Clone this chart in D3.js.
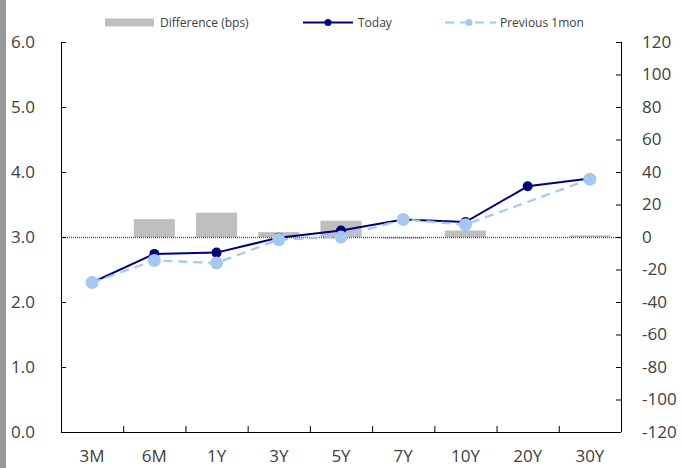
<!DOCTYPE html>
<html>
<head>
<meta charset="utf-8">
<script src="https://cdn.jsdelivr.net/npm/d3@7"></script>
<style>
  body { margin: 0; background: #fff; }
  text { font-family: "Open Sans", "Noto Sans", sans-serif; fill: #404040; }
</style>
</head>
<body>
<svg width="682" height="468"></svg>
<script>
// ---> Data
const categories = ["3M", "6M", "1Y", "3Y", "5Y", "7Y", "10Y", "20Y", "30Y"];
const today = [2.30, 2.74, 2.76, 2.99, 3.10, 3.27, 3.23, 3.78, 3.90];
const previous = [2.30, 2.64, 2.60, 2.96, 3.00, 3.27, 3.19, null, 3.89];
const diffBps = [0, 11, 15, 3, 10, -1, 4, null, 1];
const leftTicks = [0, 1, 2, 3, 4, 5, 6];
const rightTicks = [-120, -100, -80, -60, -40, -20, 0, 20, 40, 60, 80, 100, 120];

const svg = d3.select("svg");
const plotLeft = 61, plotRight = 621, plotTop = 42, plotBottom = 432;

// gray strip on the left edge
svg.append("rect").attr("x", 0).attr("y", 0).attr("width", 6).attr("height", 468).attr("fill", "#999");

const x = d3.scaleBand().domain(categories).range([plotLeft, plotRight]);
const yL = d3.scaleLinear().domain([0, 6]).range([plotBottom, plotTop]);
const yR = d3.scaleLinear().domain([-120, 120]).range([plotBottom, plotTop]);

// bars
svg.append("g").selectAll("rect")
    .data(categories.map((c, i) => ({c: c, v: diffBps[i]})).filter(d => d.v !== null && d.v !== 0))
    .enter().append("rect")
    .attr("x", d => x(d.c) + x.bandwidth() * 0.17)
    .attr("width", x.bandwidth() * 0.66)
    .attr("y", d => yR(Math.max(0, d.v)))
    .attr("height", d => Math.abs(yR(d.v) - yR(0)))
    .attr("fill", "#bfbfbf");

// zero line (dotted)
svg.append("line")
    .attr("x1", plotLeft).attr("x2", plotRight)
    .attr("y1", yR(0) + 0.5).attr("y2", yR(0) + 0.5)
    .attr("stroke", "#555").attr("stroke-width", 1.3).attr("stroke-dasharray", "1,1");

// axes
const axisL = svg.append("g").attr("transform", `translate(${plotLeft},0)`)
    .call(d3.axisRight(yL).tickValues(leftTicks).tickFormat(d3.format(".1f")).tickSize(5));
axisL.selectAll("text").attr("x", -26).attr("text-anchor", "end").attr("dy", "0.35em");

const axisR = svg.append("g").attr("transform", `translate(${plotRight},0)`)
    .call(d3.axisLeft(yR).tickValues(rightTicks).tickFormat(d => String(d)).tickSize(5));
axisR.selectAll("text").attr("x", 21).attr("text-anchor", "start");

const axisB = svg.append("g").attr("transform", `translate(0,${plotBottom})`)
    .call(d3.axisTop(x).tickSize(0).tickFormat(""));
// category boundary ticks
svg.append("g").selectAll("line")
    .data(categories.slice(1))
    .enter().append("line")
    .attr("x1", d => x(d) + 0.5).attr("x2", d => x(d) + 0.5)
    .attr("y1", plotBottom).attr("y2", plotBottom - 6)
    .attr("stroke", "#000");
svg.append("g").selectAll("text")
    .data(categories)
    .enter().append("text")
    .attr("x", d => x(d) + x.bandwidth() / 2)
    .attr("y", 462)
    .attr("text-anchor", "middle")
    .text(d => d);

svg.selectAll(".domain").attr("stroke", "#000");
svg.selectAll(".tick line").attr("stroke", "#000");
svg.selectAll("text").style("font-size", "17px");
axisB.select(".domain").attr("d", `M${plotLeft},0.5H${plotRight}`);
axisL.select(".domain").attr("d", `M0.5,${plotTop}V${plotBottom}`);
axisR.select(".domain").attr("d", `M0.5,${plotTop}V${plotBottom}`);

// lines
const cx = c => x(c) + x.bandwidth() / 2;
const prevPts = categories.map((c, i) => ({c: c, v: previous[i]})).filter(d => d.v !== null);
const todayPts = categories.map((c, i) => ({c: c, v: today[i]}));
const line = d3.line().x(d => cx(d.c)).y(d => yL(d.v));

svg.append("path").datum(todayPts).attr("d", line)
    .attr("fill", "none").attr("stroke", "#000080").attr("stroke-width", 2);
svg.append("g").selectAll("circle").data(todayPts).enter().append("circle")
    .attr("cx", d => cx(d.c)).attr("cy", d => yL(d.v)).attr("r", 5).attr("fill", "#000080");

svg.append("path").datum(prevPts).attr("d", line)
    .attr("fill", "none").attr("stroke", "#a4c8f0").attr("stroke-width", 2.2).attr("stroke-dasharray", "9,6");
svg.append("g").selectAll("circle").data(prevPts).enter().append("circle")
    .attr("cx", d => cx(d.c)).attr("cy", d => yL(d.v)).attr("r", 6.5).attr("fill", "#a4c8f0");

// legend
const lg = svg.append("g");
const ly = 22.5;
lg.append("rect").attr("x", 105).attr("y", ly - 4).attr("width", 49).attr("height", 8).attr("fill", "#bfbfbf");
lg.append("text").attr("x", 160).attr("y", ly + 4).text("Difference (bps)").style("font-size", "12px");
lg.append("line").attr("x1", 303).attr("x2", 353).attr("y1", ly).attr("y2", ly).attr("stroke", "#000080").attr("stroke-width", 2);
lg.append("circle").attr("cx", 328).attr("cy", ly).attr("r", 3.5).attr("fill", "#000080");
lg.append("text").attr("x", 358).attr("y", ly + 4).text("Today").style("font-size", "12px");
lg.append("line").attr("x1", 445).attr("x2", 496).attr("y1", ly).attr("y2", ly).attr("stroke", "#a4c8f0").attr("stroke-width", 2).attr("stroke-dasharray", "9,6");
lg.append("circle").attr("cx", 469).attr("cy", ly).attr("r", 3.5).attr("fill", "#a4c8f0");
lg.append("text").attr("x", 500).attr("y", ly + 4).text("Previous 1mon").style("font-size", "12px");
</script>
</body>
</html>
